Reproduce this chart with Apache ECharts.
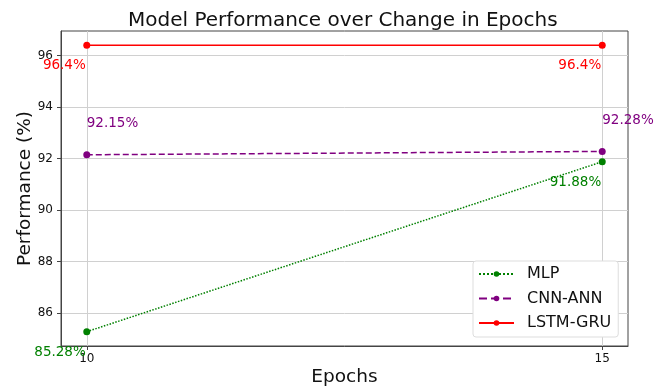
<!DOCTYPE html>
<html>
<head>
<meta charset="utf-8">
<script src="https://cdn.jsdelivr.net/npm/echarts@6/dist/echarts.min.js"></script>
<style>html,body{margin:0;padding:0;background:#fff}#c{width:665px;height:388px}</style>
</head>
<body>
<div id="c"></div>
<script>
const epochs = [10, 15];
const seriesNames = ['MLP', 'CNN-ANN', 'LSTM-GRU'];
const mlpValues = [85.28, 91.88];
const cnnAnnValues = [92.15, 92.28];
const lstmGruValues = [96.4, 96.4];
const xTicks = [10, 15];
const yTicks = [86, 88, 90, 92, 94, 96];

const colors = ['#008000', '#800080', '#ff0000'];
const lineTypes = ['dotted', 'dashed', 'solid'];
// label placement per point: [align, dx, dy]
const labelPlace = [
  [['right', -1, 21], ['right', -1, 21]],
  [['left', 0, -31], ['left', 0, -31]],
  [['right', -1, 20], ['right', -1, 20]]
];
const allValues = [mlpValues, cnnAnnValues, lstmGruValues];

const series = seriesNames.map((name, si) => ({
  name,
  type: 'line',
  symbol: 'circle',
  symbolSize: 7,
  color: colors[si],
  lineStyle: { color: colors[si], width: 1.5, type: lineTypes[si] },
  itemStyle: { color: colors[si] },
  z: 3 + si,
  data: epochs.map((x, i) => ({
    value: [x, allValues[si][i]],
    label: {
      show: true,
      position: 'inside',
      align: labelPlace[si][i][0],
      verticalAlign: 'middle',
      offset: [labelPlace[si][i][1], labelPlace[si][i][2]],
      color: colors[si],
      fontSize: 13.5,
      fontFamily: 'DejaVu Sans',
      formatter: (p) => p.value[1] + '%'
    }
  }))
}));

const chart = echarts.init(document.getElementById('c'));
chart.setOption({
  animation: false,
  backgroundColor: '#fff',
  title: {
    text: 'Model Performance over Change in Epochs',
    left: 123,
    top: 6,
    textStyle: { fontFamily: 'DejaVu Sans', fontSize: 20, fontWeight: 'normal', color: '#111' }
  },
  grid: { left: 61, right: 37, top: 31, bottom: 42, containLabel: false, outerBoundsMode: 'none', show: true, borderColor: '#444', borderWidth: 1, backgroundColor: 'transparent' },
  legend: {
    orient: 'vertical',
    left: 473,
    top: 261,
    itemWidth: 35,
    itemHeight: 7,
    itemGap: 8.5,
    padding: [5, 7, 6, 5],
    backgroundColor: '#fff',
    borderColor: '#ddd',
    borderWidth: 1,
    borderRadius: 3,
    textStyle: { fontFamily: 'DejaVu Sans', fontSize: 16, color: '#111', padding: [0, 0, 0, 8] },
    data: seriesNames
  },
  xAxis: {
    type: 'value',
    min: 9.75,
    max: 15.25,
    name: 'Epochs',
    nameLocation: 'middle',
    nameGap: 22,
    nameMoveOverlap: false,
    nameTextStyle: { fontFamily: 'DejaVu Sans', fontSize: 18.5, color: '#111', verticalAlign: 'top' },
    axisLine: { show: true, lineStyle: { color: '#444' } },
    axisTick: { show: true, length: 4, customValues: xTicks, lineStyle: { color: '#444' } },
    axisLabel: { customValues: xTicks, fontFamily: 'DejaVu Sans', fontSize: 12, color: '#111', margin: 7 },
    splitLine: { show: true, lineStyle: { color: '#d0d0d0', width: 1 } }
  },
  yAxis: {
    type: 'value',
    min: 84.724,
    max: 96.956,
    name: 'Performance (%)',
    nameLocation: 'middle',
    nameGap: 26,
    nameMoveOverlap: false,
    nameTextStyle: { fontFamily: 'DejaVu Sans', fontSize: 18.5, color: '#111', verticalAlign: 'bottom' },
    axisLine: { show: true, lineStyle: { color: '#444' } },
    axisTick: { show: true, length: 4, customValues: yTicks, lineStyle: { color: '#444' } },
    axisLabel: { customValues: yTicks, fontFamily: 'DejaVu Sans', fontSize: 12, color: '#111', margin: 8 },
    splitLine: { show: true, lineStyle: { color: '#d0d0d0', width: 1 } }
  },
  series
});
</script>
</body>
</html>
